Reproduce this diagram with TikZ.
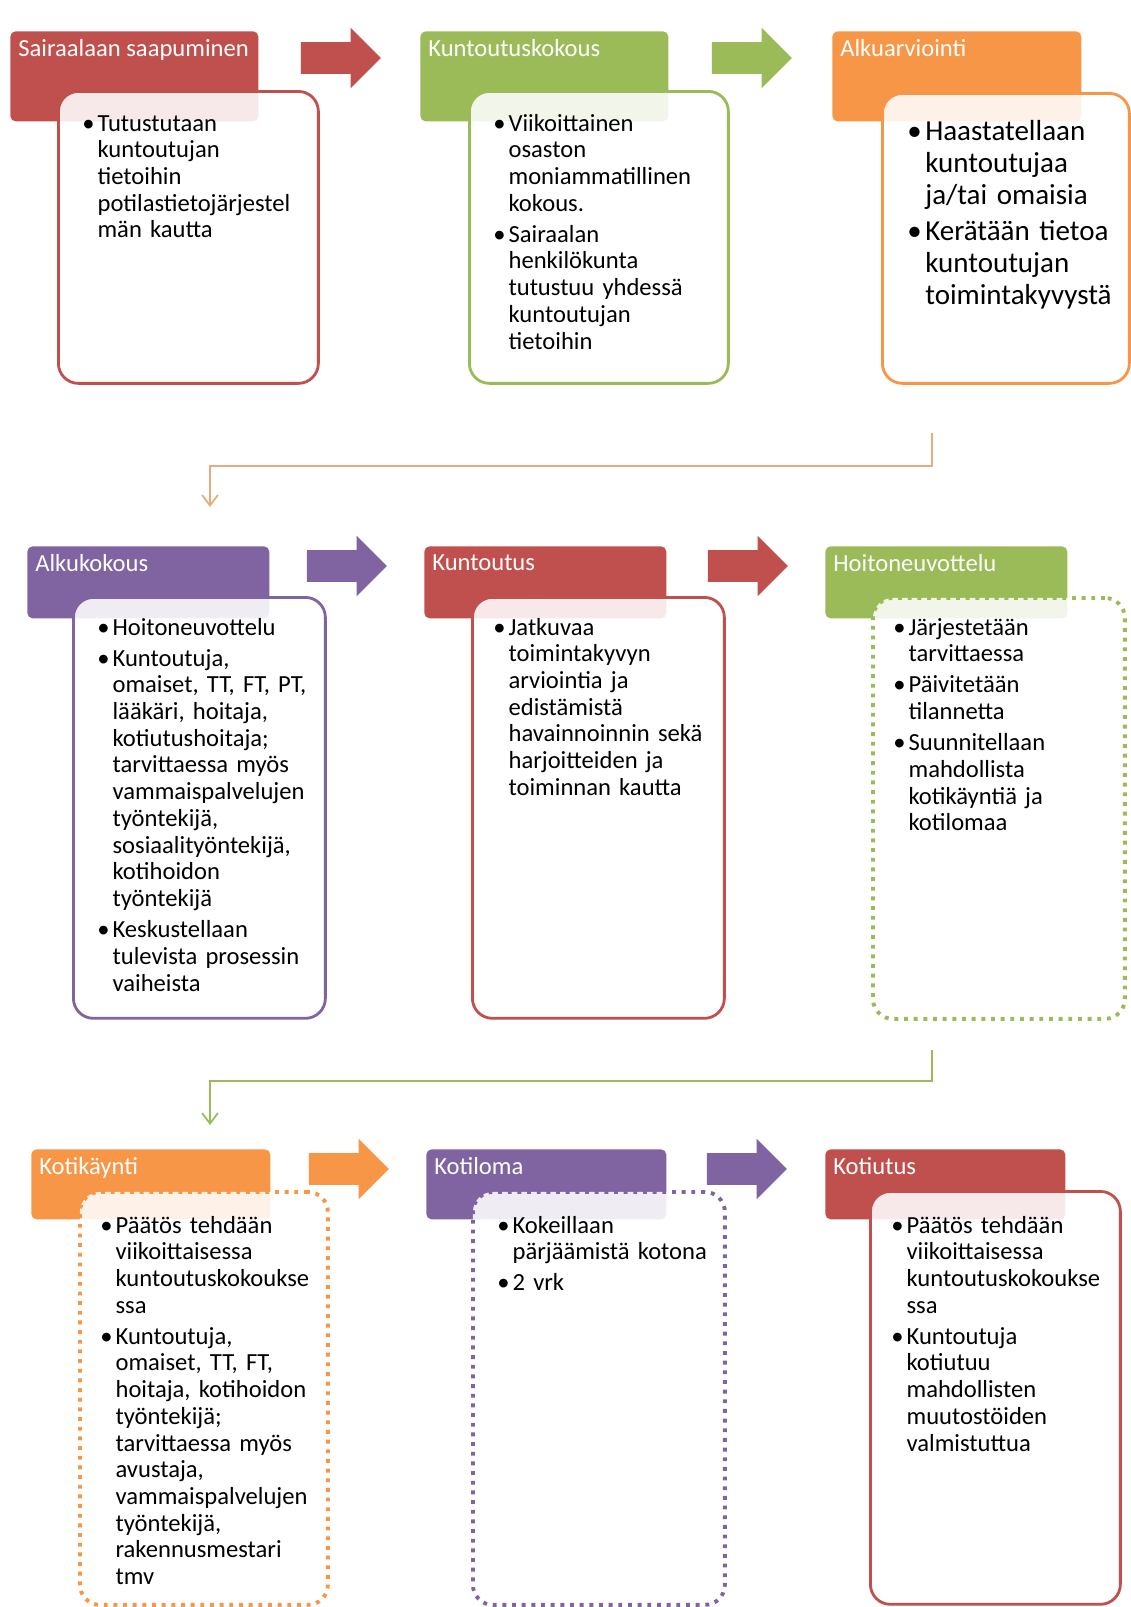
\documentclass[tikz,border=0pt]{standalone}
\usepackage{fontspec}
\setmainfont{Carlito}
\usepackage{tikz}
\usetikzlibrary{shapes.arrows, arrows.meta, positioning}

\definecolor{ored}{HTML}{C0504D}
\definecolor{ogreen}{HTML}{9BBB59}
\definecolor{oorange}{HTML}{F79646}
\definecolor{opurple}{HTML}{8064A2}
\definecolor{otan}{HTML}{E2AE7C}

\newcommand{\bul}{\par\noindent\hangindent=0.62em\hangafter=1\makebox[0.62em][l]{\textbullet}}
\newcommand{\nbul}{\par\vspace{2.5pt}\bul}
\newcommand{\brk}{\newline}

\begin{document}
\begin{tikzpicture}[
    x=0.02cm, y=-0.02cm,
    hdr/.style={rectangle, anchor=north west, rounded corners=3pt, inner sep=0pt, draw=none},
    hdrtext/.style={anchor=north west, text=white, inner sep=0pt, font=\fontsize{14}{16}\selectfont},
    body/.style={rectangle, anchor=north west, rounded corners=0.4cm, line width=1.6pt, fill=white, fill opacity=0.88, inner sep=0pt},
    dotbody/.style={body, line width=2.2pt, dash pattern=on 2.2pt off 3.3pt},
    bodytext/.style={anchor=north west, text width=4.8cm, inner sep=0pt, font=\fontsize{14}{15.2}\selectfont},
    blockarrow/.style={single arrow, text height=0.62cm, text depth=0pt, inner sep=0pt, minimum height=1.6cm, single arrow head extend=0.29cm, draw=none},
    conn/.style={draw, line width=1pt, -{Straight Barb[length=6pt, width=9pt]}}
]
    \useasboundingbox (0,0) rectangle (1130,1607);

    % Row 1
    \node (hdr_arrive) [hdr, fill=ored, minimum width=4.96cm, minimum height=1.8cm] at (10,31) {};
    \node (hdr_meet) [hdr, fill=ogreen, minimum width=4.96cm, minimum height=1.8cm] at (420,31) {};
    \node (hdr_eval) [hdr, fill=oorange, minimum width=4.98cm, minimum height=1.8cm] at (832,31) {};
    \node [hdrtext, below right=0.16cm and 0.16cm of hdr_arrive.north west] {Sairaalaan saapuminen};
    \node [hdrtext, below right=0.16cm and 0.16cm of hdr_meet.north west] {Kuntoutuskokous};
    \node [hdrtext, below right=0.16cm and 0.16cm of hdr_eval.north west] {Alkuarviointi};

    \node (arr_arrive) [blockarrow, fill=ored] at (333,58) {};
    \node (arr_meet) [blockarrow, fill=ogreen] at (744,58) {};

    \node (body_arrive) [body, draw=ored, minimum width=5.2cm, minimum height=5.84cm] at (57,90) {};
    \node (body_meet) [body, draw=ogreen, minimum width=5.18cm, minimum height=5.84cm] at (468,90) {};
    \node (body_eval) [body, draw=oorange, minimum width=4.94cm, minimum height=5.8cm] at (881,92) {};

    \node (txt_arrive) [bodytext, below right=0.28cm and 0.5cm of body_arrive.north west]
        {\bul Tutustutaan\brk kuntoutujan\brk tietoihin\brk potilastietojärjestel\brk män kautta\par};
    \node (txt_meet) [bodytext, below right=0.28cm and 0.5cm of body_meet.north west]
        {\bul Viikoittainen\brk osaston\brk moniammatillinen\brk kokous.
         \nbul Sairaalan\brk henkilökunta\brk tutustuu yhdessä\brk kuntoutujan\brk tietoihin\par};
    \node (txt_eval) [bodytext, font=\fontsize{16.5}{18.2}\selectfont, below right=0.32cm and 0.52cm of body_eval.north west]
        {\bul Haastatellaan\brk kuntoutujaa\brk ja/tai omaisia
         \nbul Kerätään tietoa\brk kuntoutujan\brk toimintakyvystä\par};

    % Row 2
    \node (hdr_start) [hdr, fill=opurple, minimum width=4.84cm, minimum height=1.44cm] at (27,546) {};
    \node (hdr_rehab) [hdr, fill=ored, minimum width=4.84cm, minimum height=1.44cm] at (424,546) {};
    \node (hdr_care) [hdr, fill=ogreen, minimum width=4.84cm, minimum height=1.44cm] at (825,546) {};
    \node [hdrtext, below right=0.16cm and 0.16cm of hdr_start.north west] {Alkukokous};
    \node [hdrtext, below right=0.16cm and 0.16cm of hdr_rehab.north west] {Kuntoutus};
    \node [hdrtext, below right=0.16cm and 0.16cm of hdr_care.north west] {Hoitoneuvottelu};

    \node (arr_start) [blockarrow, fill=opurple] at (339,566) {};
    \node (arr_rehab) [blockarrow, fill=ored] at (740,566) {};

    \node (body_start) [body, draw=opurple, minimum width=5.04cm, minimum height=8.42cm] at (72,596) {};
    \node (body_rehab) [body, draw=ored, minimum width=5.04cm, minimum height=8.42cm] at (471,596) {};
    \node (body_care) [dotbody, draw=ogreen, minimum width=5.04cm, minimum height=8.42cm] at (871,596) {};

    \node (txt_start) [bodytext, below right=0.24cm and 0.5cm of body_start.north west]
        {\bul Hoitoneuvottelu
         \nbul Kuntoutuja,\brk omaiset, TT, FT, PT,\brk lääkäri, hoitaja,\brk kotiutushoitaja;\brk tarvittaessa myös\brk vammaispalvelujen\brk työntekijä,\brk sosiaalityöntekijä,\brk kotihoidon\brk työntekijä
         \nbul Keskustellaan\brk tulevista prosessin\brk vaiheista\par};
    \node (txt_rehab) [bodytext, below right=0.24cm and 0.44cm of body_rehab.north west]
        {\bul Jatkuvaa\brk toimintakyvyn\brk arviointia ja\brk edistämistä\brk havainnoinnin sekä\brk harjoitteiden ja\brk toiminnan kautta\par};
    \node (txt_care) [bodytext, below right=0.24cm and 0.44cm of body_care.north west]
        {\bul Järjestetään\brk tarvittaessa
         \nbul Päivitetään\brk tilannetta
         \nbul Suunnitellaan\brk mahdollista\brk kotikäyntiä ja\brk kotilomaa\par};

    % Row 3
    \node (hdr_visit) [hdr, fill=oorange, minimum width=4.78cm, minimum height=1.4cm] at (31,1149) {};
    \node (hdr_leave) [hdr, fill=opurple, minimum width=4.8cm, minimum height=1.4cm] at (426,1149) {};
    \node (hdr_home) [hdr, fill=ored, minimum width=4.8cm, minimum height=1.4cm] at (825,1149) {};
    \node [hdrtext, below right=0.16cm and 0.16cm of hdr_visit.north west] {Kotikäynti};
    \node [hdrtext, below right=0.16cm and 0.16cm of hdr_leave.north west] {Kotiloma};
    \node [hdrtext, below right=0.16cm and 0.16cm of hdr_home.north west] {Kotiutus};

    \node (arr_visit) [blockarrow, fill=oorange] at (341,1169) {};
    \node (arr_leave) [blockarrow, fill=opurple] at (739,1169) {};

    \node (body_visit) [dotbody, draw=oorange, minimum width=4.96cm, minimum height=8.26cm] at (78,1190) {};
    \node (body_leave) [dotbody, draw=opurple, minimum width=5.04cm, minimum height=8.26cm] at (471,1190) {};
    \node (body_home) [body, draw=ored, minimum width=5.0cm, minimum height=8.26cm] at (869,1190) {};

    \node (txt_visit) [bodytext, below right=0.32cm and 0.44cm of body_visit.north west]
        {\bul Päätös tehdään\brk viikoittaisessa\brk kuntoutuskokoukse\brk ssa
         \nbul Kuntoutuja,\brk omaiset, TT, FT,\brk hoitaja, kotihoidon\brk työntekijä;\brk tarvittaessa myös\brk avustaja,\brk vammaispalvelujen\brk työntekijä,\brk rakennusmestari\brk tmv\par};
    \node (txt_leave) [bodytext, below right=0.32cm and 0.52cm of body_leave.north west]
        {\bul Kokeillaan\brk pärjäämistä kotona
         \nbul 2 vrk\par};
    \node (txt_home) [bodytext, below right=0.32cm and 0.44cm of body_home.north west]
        {\bul Päätös tehdään\brk viikoittaisessa\brk kuntoutuskokoukse\brk ssa
         \nbul Kuntoutuja\brk kotiutuu\brk mahdollisten\brk muutostöiden\brk valmistuttua\par};

    % Connectors between rows
    \coordinate (turn_a) at (932,433);
    \coordinate (turn_a_end) at (210,507);
    \coordinate (turn_b) at (932,1050);
    \coordinate (turn_b_end) at (210,1125);
    \draw [conn, draw=otan] (turn_a) -- ++(0,33) -| (turn_a_end);
    \draw [conn, draw=ogreen] (turn_b) -- ++(0,31) -| (turn_b_end);

\end{tikzpicture}
\end{document}
